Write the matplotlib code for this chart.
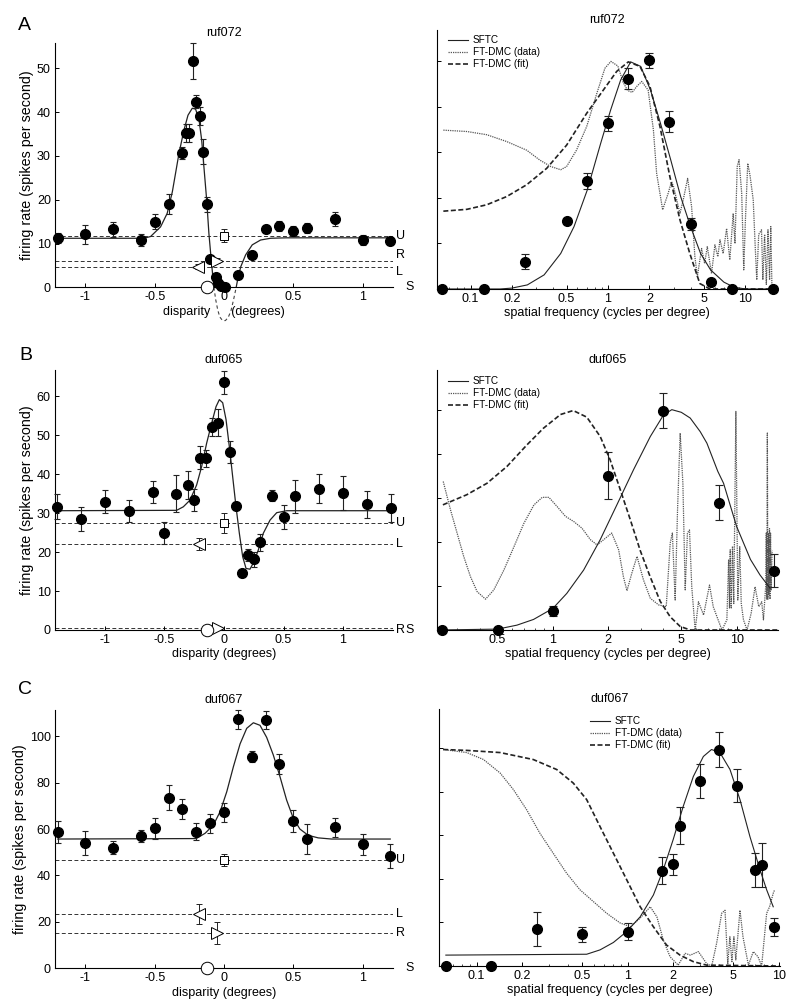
import numpy as np
import matplotlib
matplotlib.use("Agg")
import matplotlib.pyplot as plt
from matplotlib.ticker import NullFormatter
from matplotlib.transforms import blended_transform_factory

plt.rcParams["font.family"] = ["Liberation Sans", "DejaVu Sans"]
plt.rcParams["font.size"] = 9

# ---- panel A: ruf072 ----
a_disp = [-1.2, -1.0, -0.8, -0.6, -0.5, -0.4, -0.3, -0.275, -0.25, -0.225, -0.2, -0.175,
          -0.15, -0.125, -0.1, -0.06, -0.045, -0.02, 0.01, 0.1, 0.2, 0.3, 0.4, 0.5, 0.6,
          0.8, 1.0, 1.2]
a_rate = [11.2, 12.1, 13.3, 10.8, 15.0, 19.0, 30.6, 35.3, 35.2, 51.7, 42.4, 39.1,
          31.0, 19.0, 6.4, 2.3, 0.9, 0.2, 0.1, 2.8, 7.4, 13.3, 14.0, 12.9, 13.6,
          15.6, 10.8, 10.6]
a_err = [1.1, 2.1, 1.7, 1.3, 1.7, 2.2, 1.4, 2.0, 2.0, 4.2, 1.5, 2.1,
         2.9, 1.7, 0.8, 0.8, 0.6, 0.5, 0.5, 0.8, 1.0, 1.0, 1.2, 1.2, 1.2,
         1.5, 1.2, 0.9]
a_fit_x = [-1.22, -0.6, -0.56, -0.53, -0.458, -0.41, -0.373, -0.35, -0.325, -0.289, -0.26,
           -0.229, -0.205, -0.18, -0.161, -0.145, -0.125, -0.109, -0.092, -0.073, -0.06,
           -0.045, -0.03, -0.01, 0.01, 0.03, 0.05, 0.07, 0.088, 0.1, 0.121, 0.156, 0.204,
           0.264, 0.336, 0.45, 1.22]
a_fit_y = [11.2, 11.2, 11.35, 11.6, 13.8, 16.9, 21.8, 26.0, 30.6, 35.9, 39.3,
           40.9, 40.7, 38.2, 33.6, 27.5, 19.9, 12.3, 6.2, 0.0, -2.8,
           -5.2, -6.8, -7.6, -7.6, -6.9, -5.4, -2.7, 0.0, 2.0, 4.7, 7.4, 9.7,
           10.8, 11.2, 11.3, 11.3]
a_ref_names = ["U", "R", "L", "S"]
a_ref_disp = [0.0, -0.05, -0.19, -0.125]
a_ref_rate = [11.8, 6.1, 4.7, 0.0]
a_ref_err = [1.5, 0.6, 0.6, 0.0]
a_ref_label_y = [11.8, 7.4, 3.5, 0.0]

a_sf = [0.0625, 0.125, 0.25, 0.5, 0.7, 1, 1.4, 2, 2.8, 4, 5.6, 8, 16]
a_sf_rate = [0, 0, 0.60, 1.50, 2.37, 3.64, 4.62, 5.02, 3.67, 1.42, 0.16, 0, 0]
a_sf_err = [0, 0, 0.17, 0.07, 0.17, 0.16, 0.23, 0.17, 0.23, 0.13, 0.05, 0, 0]
a_sftc_f = [0.057, 0.164, 0.2, 0.259, 0.343, 0.453, 0.566, 0.708, 0.885, 1.045, 1.236, 1.462,
            1.73, 2.04, 2.41, 2.86, 3.38, 3.99, 4.72, 5.58, 6.98, 8.26, 10, 16.5]
a_sftc_y = [0, 0, 0.02, 0.09, 0.31, 0.78, 1.37, 2.18, 3.2, 3.93, 4.59, 4.99,
            4.89, 4.37, 3.64, 2.84, 2.03, 1.37, 0.78, 0.42, 0.15, 0.04, 0, 0]
a_dmcfit_f = [0.0634, 0.094, 0.131, 0.183, 0.256, 0.358, 0.5, 0.7, 0.925, 1.157, 1.406,
              1.71, 2.02, 2.39, 2.82, 3.34, 3.94, 4.66, 5.52, 16.5]
a_dmcfit_y = [1.71, 1.75, 1.85, 2.03, 2.29, 2.65, 3.16, 3.86, 4.37, 4.78, 4.99,
              4.89, 4.45, 3.57, 2.47, 1.52, 0.78, 0.12, 0.0, 0.0]
a_dmcdata_f = [0.0634, 0.094, 0.131, 0.183, 0.256, 0.32, 0.384, 0.453, 0.5, 0.59, 0.70,
               0.83, 0.95, 1.05, 1.18, 1.29, 1.39, 1.5, 1.62, 1.76, 1.96, 2.14, 2.26,
               2.5, 2.74, 2.9, 3.0, 3.34, 3.53, 3.8, 4.06, 4.29, 4.47, 4.8, 5.05, 5.28,
               5.67, 6.0, 6.3, 6.53, 6.89, 7.3, 7.7, 8.15, 8.4, 8.72, 8.99, 9.4, 9.73,
               10.0, 10.4, 10.8, 11.4, 11.8, 12.1, 12.5, 13.1, 13.4, 13.8, 14.2, 14.6,
               15.0, 15.3, 15.6]
a_dmcdata_y = [3.49, 3.46, 3.39, 3.24, 3.05, 2.83, 2.69, 2.62, 2.69, 3.05, 3.57,
               4.30, 4.85, 5.0, 4.9, 4.54, 4.36, 4.32, 4.45, 4.56, 4.37, 3.5, 2.54,
               1.74, 2.1, 2.36, 2.25, 1.66, 1.96, 2.43, 1.81, 0.71, 0.27, 0.89, 0.56, 0.93,
               0.34, 0.97, 0.71, 1.08, 0.78, 1.33, 0.64, 1.66, 1.0, 2.69, 2.84, 2.1, 0.42,
               1.5, 2.76, 2.5, 1.96, 0.9, 0.2, 1.2, 1.3, 0.2, 1.2, 0.1, 1.3,
               0.2, 1.37, 0.05]

# ---- panel B: duf065 ----
b_disp = [-1.4, -1.2, -1.0, -0.8, -0.6, -0.5, -0.4, -0.3, -0.25, -0.2, -0.15, -0.1, -0.05,
          0.0, 0.05, 0.1, 0.15, 0.2, 0.25, 0.3, 0.4, 0.5, 0.6, 0.8, 1.0, 1.2, 1.4]
b_rate = [31.6, 28.5, 32.9, 30.5, 35.3, 24.9, 35.0, 37.1, 33.3, 44.2, 44.0, 52.1, 53.2,
          63.5, 45.6, 31.9, 14.5, 19.2, 18.1, 22.5, 34.5, 28.9, 34.3, 36.3, 35.2, 32.2, 31.2]
b_err = [3.2, 3.1, 3.0, 2.9, 2.8, 2.8, 4.7, 3.6, 2.8, 3.0, 2.2, 2.3, 3.4,
         2.9, 2.8, 1.0, 1.0, 1.5, 2.0, 2.2, 1.5, 3.1, 4.3, 3.7, 4.3, 3.5, 3.6]
b_fit_x = [-1.42, -0.398, -0.342, -0.286, -0.23, -0.188, -0.146, -0.104, -0.067, -0.039,
           -0.011, 0.017, 0.045, 0.073, 0.101, 0.129, 0.157, 0.185, 0.218, 0.252, 0.288,
           0.33, 0.387, 0.443, 0.527, 1.42]
b_fit_y = [30.6, 30.7, 31.6, 33.3, 37.2, 41.9, 47.9, 53.0, 57.3, 59.1,
           58.3, 54.0, 47.0, 39.3, 31.6, 24.8, 18.8, 15.8, 15.6, 17.5, 20.5,
           24.8, 28.2, 30.1, 30.6, 30.6]
b_ref_names = ["U", "L", "R", "S"]
b_ref_disp = [0.0, -0.21, -0.05, -0.14]
b_ref_rate = [27.4, 22.1, 0.4, 0.0]
b_ref_err = [2.6, 1.5, 0.3, 0.0]
b_ref_label_y = [27.4, 22.1, 0.0, 0.0]

b_sf = [0.25, 0.5, 1, 2, 4, 8, 16]
b_sf_rate = [0, 0, 0.43, 3.5, 4.98, 2.89, 1.35]
b_sf_err = [0, 0, 0.11, 0.53, 0.40, 0.39, 0.37]
b_sftc_f = [0.234, 0.5, 0.637, 0.785, 1.0, 1.19, 1.47, 1.81, 2.23, 2.75, 3.39, 4.0, 4.44,
            5.0, 5.59, 6.34, 6.89, 7.9, 8.49, 10.0, 11.9, 13.4, 15.2]
b_sftc_y = [0, 0.02, 0.11, 0.24, 0.49, 0.83, 1.36, 2.05, 2.84, 3.64, 4.39, 4.88, 5.0,
            4.94, 4.81, 4.5, 4.24, 3.6, 3.33, 2.35, 1.6, 1.25, 0.95]
b_dmcfit_f = [0.252, 0.34, 0.438, 0.562, 0.722, 0.889, 1.1, 1.29, 1.53, 1.81, 2.05, 2.32,
              2.64, 2.99, 3.39, 3.84, 4.35, 4.93, 5.6, 16.8]
b_dmcfit_y = [2.84, 3.07, 3.33, 3.71, 4.2, 4.58, 4.89, 4.98, 4.83, 4.39, 3.86, 3.2,
              2.5, 1.8, 1.2, 0.65, 0.3, 0.08, 0.0, 0.0]
b_dmcdata_f = [0.253, 0.277, 0.301, 0.327, 0.356, 0.387, 0.43, 0.477, 0.541, 0.614, 0.695,
               0.789, 0.875, 0.951, 1.055, 1.17, 1.3, 1.44, 1.6, 1.74, 1.89, 2.09, 2.28,
               2.42, 2.53, 2.69, 2.87, 3.11, 3.39, 3.76, 4.14, 4.35, 4.47, 4.63, 4.77,
               4.93, 5.1, 5.25, 5.4, 5.54, 5.7, 5.95, 6.2, 6.61, 7.12, 7.46, 7.82, 8.32,
               8.85, 9.05, 9.15, 9.23, 9.35, 9.5, 9.65, 9.91, 10.15, 10.4, 10.6, 10.9,
               11.4, 12.0, 12.6, 13.2, 13.7, 14.0, 14.4, 14.5, 14.6, 14.7, 14.8, 14.9,
               15.0, 15.1, 15.2, 15.3, 15.4, 15.6]
b_dmcdata_y = [3.37, 2.73, 2.2, 1.67, 1.21, 0.87, 0.70, 0.91, 1.36, 1.89, 2.42,
               2.84, 3.01, 3.01, 2.8, 2.58, 2.46, 2.31, 2.05, 1.93, 2.05, 2.2, 1.82,
               1.21, 0.89, 1.29, 1.67, 1.14, 0.72, 0.57, 0.53, 1.97, 2.2, 0.68, 2.73,
               4.47, 3.33, 0.91, 2.2, 2.27, 0.98, 0.0, 0.64, 0.34, 1.02, 0.53, 0.3, 0.0,
               0.23, 1.6, 0.5, 1.82, 0.5, 1.9, 0.6, 4.96, 0.68, 1.89, 0.6, 0.23,
               0.0, 0.38, 0.98, 0.53, 0.64, 0.23, 1.0, 2.2, 0.7, 4.47, 0.7, 2.2,
               0.8, 2.3, 0.7, 2.2, 0.9, 1.8]

# ---- panel C: duf067 ----
c_disp = [-1.2, -1.0, -0.8, -0.6, -0.5, -0.4, -0.3, -0.2, -0.1, 0.0, 0.1, 0.2, 0.3, 0.4,
          0.5, 0.6, 0.8, 1.0, 1.2]
c_rate = [58.6, 54.1, 52.0, 57.0, 60.3, 73.5, 68.5, 58.9, 62.5, 67.2, 107.4, 91.2, 107.0,
          87.9, 63.5, 55.6, 60.8, 53.4, 48.4]
c_err = [4.8, 5.2, 2.7, 2.4, 4.5, 5.5, 4.3, 3.6, 4.0, 4.1, 4.1, 2.5, 3.7, 4.3,
         4.8, 6.4, 4.1, 4.5, 5.2]
c_fit_x = [-1.2, -0.2, -0.136, -0.076, -0.028, 0.02, 0.068, 0.116, 0.164, 0.212, 0.26,
           0.308, 0.356, 0.404, 0.452, 0.5, 0.548, 0.608, 0.68, 0.776, 1.2]
c_fit_y = [55.7, 55.9, 58.2, 61.8, 67.5, 76.1, 86.9, 96.7, 103.4, 105.8, 104.7,
           99.5, 91.9, 82.6, 72.5, 64.7, 60.0, 57.3, 56.2, 55.7, 55.7]
c_ref_names = ["U", "L", "R", "S"]
c_ref_disp = [0.0, -0.18, -0.05, -0.12]
c_ref_rate = [46.7, 23.3, 15.1, 0.0]
c_ref_err = [2.5, 4.3, 4.7, 0.0]
c_ref_label_y = [46.7, 23.3, 15.1, 0.0]

c_sf = [0.0625, 0.125, 0.25, 0.5, 1, 1.68, 2, 2.22, 3, 4, 5.3, 7, 7.8, 9.35]
c_sf_rate = [0, 0, 0.84, 0.73, 0.79, 2.19, 2.34, 3.22, 4.24, 4.97, 4.14, 2.21, 2.32, 0.9]
c_sf_err = [0, 0, 0.39, 0.17, 0.2, 0.31, 0.24, 0.43, 0.39, 0.41, 0.38, 0.39, 0.51, 0.2]
c_sftc_f = [0.0625, 0.535, 0.656, 0.804, 0.985, 1.21, 1.48, 1.72, 2.0, 2.33, 2.72, 3.17,
            3.59, 4.08, 4.76, 5.54, 6.45, 7.52, 8.32, 9.2]
c_sftc_y = [0.25, 0.27, 0.37, 0.54, 0.79, 1.13, 1.63, 2.21, 2.9, 3.66, 4.35, 4.81,
            4.97, 4.9, 4.51, 3.82, 2.97, 2.21, 1.75, 1.36]
c_dmcfit_f = [0.06, 0.086, 0.143, 0.237, 0.339, 0.436, 0.535, 0.656, 0.804, 0.985, 1.21,
              1.48, 1.81, 2.22, 2.72, 3.33, 10.0]
c_dmcfit_y = [4.97, 4.95, 4.9, 4.74, 4.51, 4.2, 3.82, 3.2, 2.59, 1.98, 1.36,
              0.9, 0.48, 0.25, 0.1, 0.02, 0.0]
c_dmcdata_f = [0.06, 0.086, 0.111, 0.143, 0.175, 0.214, 0.262, 0.321, 0.394, 0.483, 0.592,
               0.726, 0.889, 1.04, 1.21, 1.41, 1.56, 1.72, 1.91, 2.16, 2.4, 2.6, 2.94,
               3.34, 3.6, 3.88, 4.19, 4.41, 4.6, 4.75, 4.9, 5.05, 5.2, 5.54, 5.8, 6.3,
               6.79, 7.3, 7.71, 8.32, 8.7, 9.2, 9.4]
c_dmcdata_y = [4.97, 4.9, 4.74, 4.43, 4.05, 3.59, 3.05, 2.59, 2.13, 1.75, 1.48,
               1.21, 0.99, 0.9, 1.1, 1.36, 1.13, 0.6, 0.21, 0.02, 0.29, 0.25, 0.33,
               0.05, 0.0, 0.52, 1.21, 1.28, 0.05, 0.67, 0.1, 0.67, 0.14, 1.28, 0.67, 0.02,
               0.33, 0.21, 0.0, 1.21, 1.36, 1.67, 1.75]

W, H = 800, 1006
REF_MARKERS = {"U": "s", "L": "<", "R": ">", "S": "o"}
REF_SIZES = {"U": 6, "L": 8, "R": 8, "S": 9}


def px_axes(fig, left, top, right, bottom):
    return fig.add_axes([left / W, 1 - bottom / H, (right - left) / W, (bottom - top) / H])


def style_axes(ax):
    for side in ("top", "right"):
        ax.spines[side].set_visible(False)
    for side in ("left", "bottom"):
        ax.spines[side].set_linewidth(0.8)
    ax.tick_params(direction="in", length=3, width=0.7, labelsize=9, pad=3)
    ax.tick_params(which="minor", direction="in", length=1.8, width=0.5)
    ax.patch.set_alpha(0)


def disparity_panel(ax, title, disp, rate, err, fit_x, fit_y, names, ref_disp, ref_rate,
                    ref_err, label_y, xlim, ylim, yticks, xlabel="disparity (degrees)"):
    style_axes(ax)
    ax.set_xlim(xlim)
    ax.set_ylim(ylim)
    lab = blended_transform_factory(ax.transAxes, ax.transData)
    for name, rx, ry, re, ly in zip(names, ref_disp, ref_rate, ref_err, label_y):
        ax.axhline(ry, color="#333333", lw=0.7, ls=(0, (4, 2.5)), zorder=1)
        ax.errorbar(rx, ry, yerr=re, fmt=REF_MARKERS[name], ms=REF_SIZES[name],
                    mfc="white", mec="black", mew=0.7, ecolor="#222222", elinewidth=0.7,
                    capsize=2, capthick=0.7, zorder=5, clip_on=False)
        ax.text(1.036 if name == "S" else 1.01, ly, name, transform=lab, ha="left",
                va="center", fontsize=9, clip_on=False)
    fy = np.asarray(fit_y)
    ax.plot(fit_x, fy, color="#222222", lw=0.9, zorder=2)
    if (fy < 0).any():
        ax.plot(fit_x, np.ma.masked_where(fy > 0, fy), color="#444444", lw=0.8,
                ls=(0, (3, 2.5)), zorder=2, clip_on=False)
    ax.errorbar(disp, rate, yerr=err, fmt="o", ms=7, mfc="black", mec="black",
                ecolor="#222222", elinewidth=0.8, capsize=2.3, capthick=0.8, zorder=4,
                clip_on=False)
    ax.set_xticks([-1, -0.5, 0, 0.5, 1])
    ax.set_xticklabels(["-1", "-0.5", "0", "0.5", "1"])
    ax.set_yticks(yticks)
    ax.set_title(title, fontsize=9, pad=5)
    ax.set_xlabel(xlabel, fontsize=9, labelpad=1.5)
    ax.set_ylabel("firing rate (spikes per second)", fontsize=10.3, labelpad=2)


def frequency_panel(ax, title, sf, sf_rate, sf_err, sftc_f, sftc_y, fit_f, fit_y, data_f,
                    data_y, xlim, ylim, xticks, anchor):
    style_axes(ax)
    ax.set_xscale("log")
    ax.set_xlim(xlim)
    ax.set_ylim(ylim)
    l1, = ax.plot(sftc_f, sftc_y, color="#222222", lw=0.8, label="SFTC", zorder=3)
    l2, = ax.plot(data_f, data_y, color="#555555", lw=0.9, ls=(0, (1, 0.8)),
                  label="FT-DMC (data)", zorder=2)
    l3, = ax.plot(fit_f, fit_y, color="#222222", lw=1.2, ls=(0, (3, 1.5)),
                  label="FT-DMC (fit)", zorder=3)
    ax.errorbar(sf, sf_rate, yerr=sf_err, fmt="o", ms=7, mfc="black", mec="black",
                ecolor="#222222", elinewidth=0.8, capsize=3.2, capthick=0.8, zorder=4,
                clip_on=False)
    ax.set_xticks(xticks)
    ax.set_xticklabels(["%g" % t for t in xticks])
    ax.xaxis.set_minor_formatter(NullFormatter())
    ax.set_yticks(range(6))
    ax.set_yticklabels([])
    ax.set_title(title, fontsize=9, pad=5)
    ax.set_xlabel("spatial frequency (cycles per degree)", fontsize=9, labelpad=1.5)
    ax.legend(handles=[l1, l2, l3], loc="upper left", bbox_to_anchor=anchor,
              frameon=False, fontsize=7.2, handlelength=2.0, handletextpad=0.5,
              labelspacing=0.2, borderpad=0, borderaxespad=0)


fig = plt.figure(figsize=(W / 100, H / 100), dpi=100)

ax = px_axes(fig, 55, 43, 393, 287.3)
disparity_panel(ax, "ruf072", a_disp, a_rate, a_err, a_fit_x, a_fit_y, a_ref_names,
                a_ref_disp, a_ref_rate, a_ref_err, a_ref_label_y, (-1.22, 1.22), (0, 55.8),
                [0, 10, 20, 30, 40, 50], xlabel="disparity      (degrees)")
ax = px_axes(fig, 437, 30, 776, 289)
frequency_panel(ax, "ruf072", a_sf, a_sf_rate, a_sf_err, a_sftc_f, a_sftc_y, a_dmcfit_f,
                a_dmcfit_y, a_dmcdata_f, a_dmcdata_y, (0.057, 16.7), (0, 5.69),
                [0.1, 0.2, 0.5, 1, 2, 5, 10], (0.032, 0.98))

ax = px_axes(fig, 55, 370, 393, 630)
disparity_panel(ax, "duf065", b_disp, b_rate, b_err, b_fit_x, b_fit_y, b_ref_names,
                b_ref_disp, b_ref_rate, b_ref_err, b_ref_label_y, (-1.42, 1.42), (0, 66.7),
                [0, 10, 20, 30, 40, 50, 60])
ax = px_axes(fig, 437, 370, 778, 630)
frequency_panel(ax, "duf065", b_sf, b_sf_rate, b_sf_err, b_sftc_f, b_sftc_y, b_dmcfit_f,
                b_dmcfit_y, b_dmcdata_f, b_dmcdata_y, (0.234, 16.8), (0, 5.9),
                [0.5, 1, 2, 5, 10], (0.032, 0.975))

ax = px_axes(fig, 55, 710, 393, 968.3)
disparity_panel(ax, "duf067", c_disp, c_rate, c_err, c_fit_x, c_fit_y, c_ref_names,
                c_ref_disp, c_ref_rate, c_ref_err, c_ref_label_y, (-1.22, 1.22), (0, 111.3),
                [0, 20, 40, 60, 80, 100])
ax = px_axes(fig, 439, 709, 780, 966)
frequency_panel(ax, "duf067", c_sf, c_sf_rate, c_sf_err, c_sftc_f, c_sftc_y, c_dmcfit_f,
                c_dmcfit_y, c_dmcdata_f, c_dmcdata_y, (0.0563, 10.2), (0, 5.9),
                [0.1, 0.2, 0.5, 1, 2, 5, 10], (0.443, 0.971))

for letter, x, y in (("A", 24, 26), ("B", 26, 355), ("C", 25, 690)):
    fig.text(x / W, 1 - y / H, letter, fontsize=14, ha="center", va="center")

fig.savefig("out.png", dpi=100, facecolor="white")
